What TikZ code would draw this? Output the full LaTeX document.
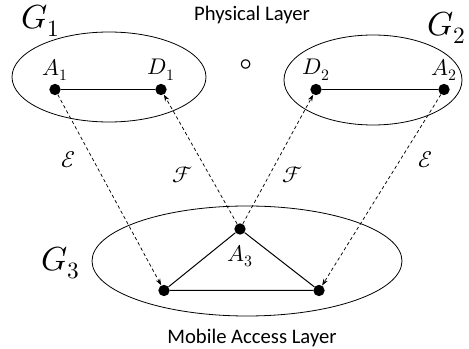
\documentclass[tikz,border=0pt]{standalone}
\usepackage{fontspec}
\setmainfont{Carlito}
\usepackage{unicode-math}
\setmathfont{Latin Modern Math}
\usetikzlibrary{arrows.meta}
\begin{document}
\begin{tikzpicture}[x=0.75pt,y=-0.75pt,
  vertex/.style={circle,fill=black,inner sep=0pt,minimum size=8.5pt},
  group/.style={draw,line width=0.6pt},
  edge/.style={line width=0.75pt},
  link/.style={line width=0.55pt,dash pattern=on 2.5pt off 2pt,-{Stealth[length=5pt,width=3.5pt]}},
  glabel/.style={font=\fontsize{25}{28}\selectfont},
  vlabel/.style={font=\fontsize{17}{19}\selectfont},
  caption/.style={font=\fontsize{15.5}{18}\selectfont}]
\useasboundingbox (0,0) rectangle (469,349);

% layers and groups
\node[caption] (phys) at (252,15) {Physical Layer};
\node[caption] (mobile) at (252,338) {Mobile Access Layer};
\draw[group] (109,77) ellipse [x radius=97, y radius=45];
\draw[group] (373,80) ellipse [x radius=89, y radius=45];
\draw[group] (247,261) ellipse [x radius=155, y radius=55];
\node[glabel] (g1) at (41,21) {$G_1$};
\node[glabel] (g2) at (447,28) {$G_2$};
\node[glabel] (g3) at (61,263) {$G_3$};
\node[font=\fontsize{24}{26}\selectfont] (sep) at (246,66) {$\circ$};

% vertices
\node[vertex] (a1) at (55,89.5) {};
\node[vertex] (d1) at (161,89.5) {};
\node[vertex] (d2) at (316,89.5) {};
\node[vertex] (a2) at (444,89.5) {};
\node[vertex] (a3) at (240,229) {};
\node[vertex] (bl) at (164,290.5) {};
\node[vertex] (br) at (319,290.5) {};

\node[vlabel] at (55,70) {$A_1$};
\node[vlabel] at (161,70) {$D_1$};
\node[vlabel] at (316,70) {$D_2$};
\node[vlabel] at (444,70) {$A_2$};
\node[vlabel] at (240,256) {$A_3$};

% edges inside the groups
\draw[edge] (a1) -- (d1);
\draw[edge] (d2) -- (a2);
\draw[edge] (a3) -- (bl) -- (br) -- (a3);

% links between the layers
\draw[link] (a1) -- (bl);
\draw[link] (a3) -- (d1);
\draw[link] (a3) -- (d2);
\draw[link] (a2) -- (br);

\node[vlabel] at (68,160) {$\mathcal{E}$};
\node[vlabel] at (183,175) {$\mathcal{F}$};
\node[vlabel] at (293,175) {$\mathcal{F}$};
\node[vlabel] at (425,160) {$\mathcal{E}$};
\end{tikzpicture}
\end{document}
